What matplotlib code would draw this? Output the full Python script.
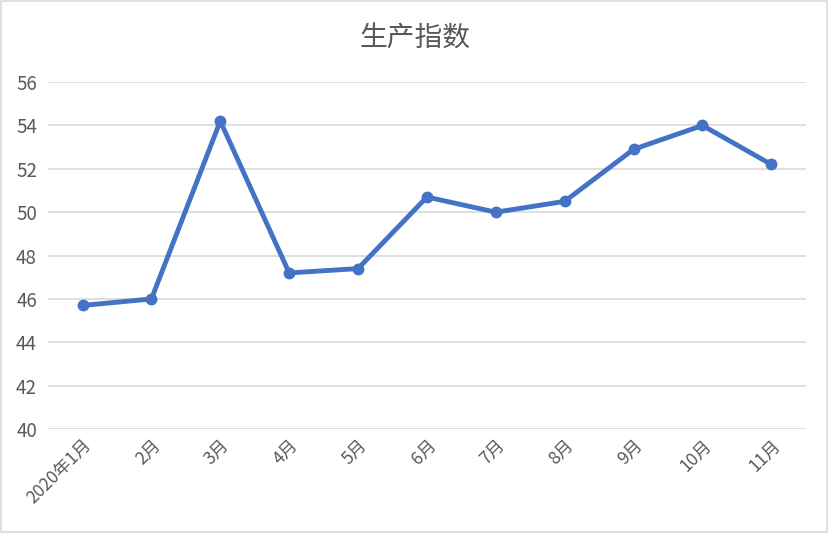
import matplotlib
matplotlib.use("Agg")
import matplotlib.pyplot as plt
from matplotlib.patches import Rectangle

plt.rcParams['font.family'] = ['Noto Sans CJK SC', 'DejaVu Sans']

months = ["2020年1月", "2月", "3月", "4月", "5月", "6月", "7月", "8月", "9月", "10月", "11月"]
index_values = [45.7, 46.0, 54.2, 47.2, 47.4, 50.7, 50.0, 50.5, 52.9, 54.0, 52.2]
y_ticks = [40, 42, 44, 46, 48, 50, 52, 54, 56]

fig = plt.figure(figsize=(8.29, 5.33), dpi=100)
ax = fig.add_axes([0.058, 0.195, 0.914, 0.651])

x = range(len(months))
ax.plot(x, index_values, color="#4472C4", linewidth=3.5, marker="o",
        markersize=7.5, solid_capstyle="round", solid_joinstyle="round", zorder=3)

ax.set_xlim(-0.5, len(months) - 0.5)
ax.set_ylim(40, 56)
ax.set_yticks(y_ticks)
ax.set_xticks(list(x))
ax.set_xticklabels(months, rotation=45, ha="right", va="top",
                   rotation_mode="anchor", fontsize=12.5, color="#595959")
ax.set_yticklabels([str(v) for v in y_ticks], fontsize=13.5, color="#595959")
ax.tick_params(length=0, pad=8)
ax.tick_params(axis="x", pad=5)

ax.grid(axis="y", color="#D9D9D9", linewidth=1.2)
ax.set_axisbelow(True)
for s in ax.spines.values():
    s.set_visible(False)

fig.text(0.5, 0.928, "生产指数", ha="center", va="center", fontsize=20, color="#595959")

# outer chart border
fig.patches.append(Rectangle((0.001, 0.001), 0.997, 0.997, transform=fig.transFigure,
                             fill=False, edgecolor="#D9D9D9", linewidth=1.2))

fig.savefig("out.png", dpi=100, facecolor="white")
